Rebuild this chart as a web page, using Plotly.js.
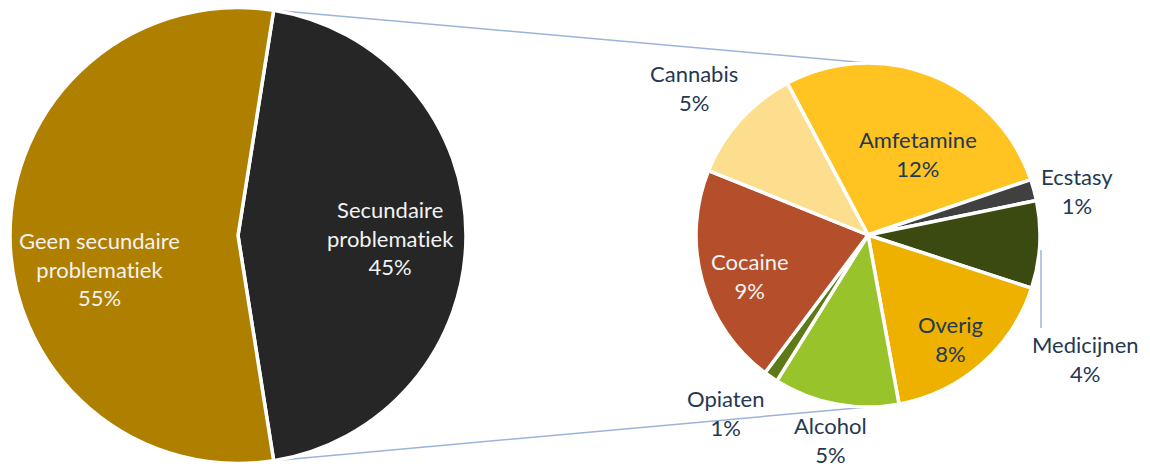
<!DOCTYPE html>
<html>
<head>
<meta charset="utf-8">
<script src="https://cdn.plot.ly/plotly-3.0.1.min.js"></script>
<style>html,body{margin:0;padding:0;background:#fff;}#chart{width:1150px;height:468px;}
text, tspan{font-variant-ligatures:none !important; font-feature-settings:"liga" 0, "clig" 0 !important;}</style>
</head>
<body>
<div id="chart"></div>
<script>
// Main pie
const mainLabels = ["Secundaire<br>problematiek", "Geen secundaire<br>problematiek"];
const mainValues = [45, 55];
const mainColors = ["#262626", "#AF7F00"];

// Secondary pie (share of total, %)
const subLabels = ["Amfetamine", "Ecstasy", "Medicijnen", "Overig", "Alcohol", "Opiaten", "Cocaine", "Cannabis"];
const subValues = [12.4, 0.9, 3.7, 7.7, 5.3, 0.6, 9.4, 5.0];
const subColors = ["#FFC322", "#404040", "#3A4A10", "#EEB100", "#99C32A", "#5E7A17", "#B54E2A", "#FDDE8E"];

const W = 1150, H = 468;
// geometry (pixels)
const mainC = {x: 238, y: 235.5, r: 228};
const subC = {x: 868, y: 235, r: 172};
const mainRot = 9, subRot = -28;

function dom(c) {
  return {x: [(c.x - c.r) / W, (c.x + c.r) / W], y: [1 - (c.y + c.r) / H, 1 - (c.y - c.r) / H]};
}

const FONT = "Lato, 'Open Sans', sans-serif";
const FS = 22;
const navy = "#243852";

const traces = [
  {type: "pie", labels: mainLabels, values: mainValues, sort: false, direction: "clockwise",
   rotation: mainRot, domain: dom(mainC), textinfo: "none", hoverinfo: "none", showlegend: false,
   marker: {colors: mainColors, line: {color: "#ffffff", width: 3.5}}},
  {type: "pie", labels: subLabels, values: subValues, sort: false, direction: "clockwise",
   rotation: subRot, domain: dom(subC), textinfo: "none", hoverinfo: "none", showlegend: false,
   marker: {colors: subColors, line: {color: "#ffffff", width: 3.5}}}
];

// label positions (px, center) and colours
const labelPos = {
  "Secundaire<br>problematiek": [390, 238, "#F2F2F2"],
  "Geen secundaire<br>problematiek": [99, 269, "#F2F2F2"],
  "Amfetamine": [918, 154, navy],
  "Ecstasy": [1077, 191, navy],
  "Medicijnen": [1085, 359, navy],
  "Overig": [950, 339, navy],
  "Alcohol": [830, 440, navy],
  "Opiaten": [726, 413, navy],
  "Cocaine": [750, 276, "#F2F2F2"],
  "Cannabis": [694, 88, navy]
};

const annotations = [];
function addLabels(labels, values) {
  labels.forEach((l, i) => {
    const p = labelPos[l];
    annotations.push({xref: "paper", yref: "paper", x: p[0] / W, y: 1 - p[1] / H,
      xanchor: "center", yanchor: "middle", showarrow: false, align: "center",
      text: l + "<br>" + Math.round(values[i]) + "%",
      font: {family: FONT, size: FS, color: p[2]}});
  });
}
addLabels(mainLabels, mainValues);
addLabels(subLabels, subValues);

// connector lines from the split slice edges to top/bottom of secondary pie
const mainTotal = mainValues.reduce((a, b) => a + b, 0);
const a0 = mainRot * Math.PI / 180;
const a1 = (mainRot + 360 * mainValues[0] / mainTotal) * Math.PI / 180;
function pt(c, a) { return [c.x + c.r * Math.sin(a), c.y - c.r * Math.cos(a)]; }
const p0 = pt(mainC, a0), p1 = pt(mainC, a1);
const lineStyle = {color: "#9CB4DA", width: 1.5};
const shapes = [
  {type: "line", xref: "paper", yref: "paper", x0: p0[0] / W, y0: 1 - p0[1] / H,
   x1: subC.x / W, y1: 1 - (subC.y - subC.r) / H, line: lineStyle, layer: "below"},
  {type: "line", xref: "paper", yref: "paper", x0: p1[0] / W, y0: 1 - p1[1] / H,
   x1: subC.x / W, y1: 1 - (subC.y + subC.r) / H, line: lineStyle, layer: "below"},
  // leader line for Medicijnen
  {type: "line", xref: "paper", yref: "paper", x0: 1041 / W, y0: 1 - 250 / H,
   x1: 1041 / W, y1: 1 - 328 / H, line: lineStyle}
];

const layout = {
  width: W, height: H, margin: {l: 0, r: 0, t: 0, b: 0},
  paper_bgcolor: "#ffffff", plot_bgcolor: "#ffffff",
  showlegend: false, annotations: annotations, shapes: shapes,
  font: {family: FONT}
};

Plotly.newPlot("chart", traces, layout, {staticPlot: true, displayModeBar: false});
</script>
</body>
</html>
